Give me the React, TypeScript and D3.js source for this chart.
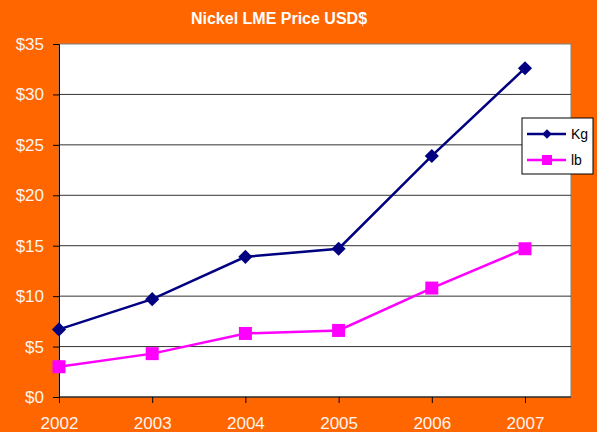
import React, { useEffect, useRef } from 'react';
import * as d3 from 'd3';

const years = ['2002', '2003', '2004', '2005', '2006', '2007'];
const kgPrices = [6.7, 9.7, 13.9, 14.7, 23.9, 32.6];
const lbPrices = [3.0, 4.3, 6.3, 6.6, 10.8, 14.7];
const yTicks = [0, 5, 10, 15, 20, 25, 30, 35];

const W = 597;
const H = 432;

const App = () => {
    const svgRef = useRef<SVGSVGElement | null>(null);

    useEffect(() => {
        if (!svgRef.current) return;
        const svg = d3.select(svgRef.current);
        svg.selectAll('*').remove();

        const plot = { left: 59, top: 44, right: 571, bottom: 397 };

        svg.append('rect').attr('width', W).attr('height', H).attr('fill', '#FF6600');

        svg.append('text')
            .attr('x', 279)
            .attr('y', 24)
            .attr('text-anchor', 'middle')
            .attr('fill', '#fff')
            .style('font-family', 'Liberation Sans, Arial, sans-serif')
            .style('font-weight', 'bold')
            .style('font-size', '16px')
            .text('Nickel LME Price USD$');

        const x = d3.scalePoint<string>().domain(years).range([plot.left, 525]);
        const y = d3.scaleLinear().domain([0, 35]).range([plot.bottom, plot.top]);

        svg.append('rect')
            .attr('x', plot.left).attr('y', plot.top)
            .attr('width', plot.right - plot.left)
            .attr('height', plot.bottom - plot.top)
            .attr('fill', '#fff')
            .attr('stroke', '#808080')
            .attr('stroke-width', 1);

        // gridlines
        svg.append('g')
            .selectAll('line')
            .data(yTicks.slice(1, -1))
            .enter()
            .append('line')
            .attr('x1', plot.left).attr('x2', plot.right)
            .attr('y1', d => y(d)).attr('y2', d => y(d))
            .attr('stroke', '#333')
            .attr('stroke-width', 1);

        const yAxis = svg.append('g')
            .attr('transform', `translate(${plot.left},0)`)
            .call(d3.axisLeft(y).tickValues(yTicks).tickSize(6).tickPadding(9).tickFormat(d => `$${d}`));
        yAxis.select('.domain').attr('stroke', '#000');
        yAxis.selectAll('line').attr('stroke', '#000');
        yAxis.selectAll('text')
            .attr('fill', '#FFF4F0')
            .style('font-family', 'Liberation Sans, Arial, sans-serif')
            .style('font-size', '17px');

        const xAxis = svg.append('g')
            .attr('transform', `translate(0,${plot.bottom})`)
            .call(d3.axisBottom(x).tickSize(6).tickSizeOuter(0).tickPadding(14));
        xAxis.select('.domain').attr('d', `M${plot.left},0H${plot.right}`).attr('stroke', '#000');
        xAxis.selectAll('line').attr('stroke', '#000');
        xAxis.selectAll('text')
            .attr('fill', '#FFF4F0')
            .style('font-family', 'Liberation Sans, Arial, sans-serif')
            .style('font-size', '17px');

        const line = d3.line<number>()
            .x((_, i) => x(years[i]) as number)
            .y(d => y(d));

        svg.append('path')
            .datum(lbPrices)
            .attr('d', line)
            .attr('fill', 'none')
            .attr('stroke', '#FF00FF')
            .attr('stroke-width', 2.5);
        svg.append('g')
            .selectAll('rect')
            .data(lbPrices)
            .enter()
            .append('rect')
            .attr('x', (_, i) => (x(years[i]) as number) - 6.5)
            .attr('y', d => y(d) - 6.5)
            .attr('width', 13).attr('height', 13)
            .attr('fill', '#FF00FF');

        svg.append('path')
            .datum(kgPrices)
            .attr('d', line)
            .attr('fill', 'none')
            .attr('stroke', '#000080')
            .attr('stroke-width', 2.5);
        svg.append('g')
            .selectAll('path')
            .data(kgPrices)
            .enter()
            .append('path')
            .attr('transform', (d, i) => `translate(${x(years[i])},${y(d)}) rotate(45)`)
            .attr('d', d3.symbol().type(d3.symbolSquare).size(100)())
            .attr('fill', '#000080');

        // legend
        const lg = svg.append('g').attr('transform', 'translate(522,118)');
        lg.append('rect')
            .attr('width', 71).attr('height', 56)
            .attr('fill', '#fff').attr('stroke', '#000').attr('stroke-width', 1);
        const items = [
            { label: 'Kg', color: '#000080', shape: 'diamond' },
            { label: 'lb', color: '#FF00FF', shape: 'square' },
        ];
        items.forEach((it, i) => {
            const cy = 16 + i * 26;
            lg.append('line')
                .attr('x1', 5).attr('x2', 44)
                .attr('y1', cy).attr('y2', cy)
                .attr('stroke', it.color).attr('stroke-width', 2.5);
            if (it.shape === 'diamond') {
                lg.append('path')
                    .attr('transform', `translate(25,${cy}) rotate(45)`)
                    .attr('d', d3.symbol().type(d3.symbolSquare).size(45)())
                    .attr('fill', it.color);
            } else {
                lg.append('rect')
                    .attr('x', 20).attr('y', cy - 5)
                    .attr('width', 10).attr('height', 10)
                    .attr('fill', it.color);
            }
            lg.append('text')
                .attr('x', 49).attr('y', cy + 5)
                .attr('fill', '#000')
                .style('font-family', 'Liberation Sans, Arial, sans-serif')
                .style('font-size', '14px')
                .text(it.label);
        });
    }, []);

    return (
        <svg
            ref={svgRef}
            width={W}
            height={H}
            style={{ position: 'absolute', left: 0, top: 0, display: 'block' }}
        />
    );
};

export default App;
